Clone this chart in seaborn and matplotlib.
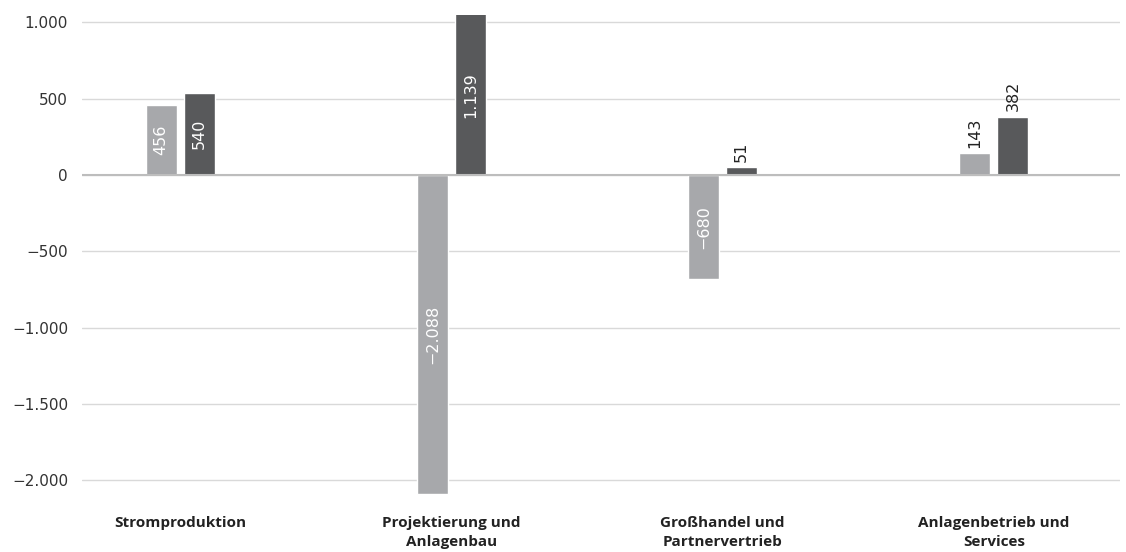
import numpy as np
import matplotlib
matplotlib.use('Agg')
import matplotlib.pyplot as plt
import matplotlib.ticker as mticker
import pandas as pd
import seaborn as sns

# Daten
kategorien = ['Stromproduktion', 'Projektierung und\nAnlagenbau',
              'Großhandel und\nPartnervertrieb', 'Anlagenbetrieb und\nServices']
reihe_1 = [456, -2088, -680, 143]
reihe_2 = [540, 1139, 51, 382]
reihen = ['Reihe 1', 'Reihe 2']
farben = ['#a7a8ab', '#58595b']

df = pd.DataFrame({
    'kategorie': kategorien * 2,
    'wert': reihe_1 + reihe_2,
    'reihe': [reihen[0]] * 4 + [reihen[1]] * 4,
})

def de_format(v):
    s = f"{abs(v):,.0f}".replace(",", ".")
    return ("\u2212" + s) if v < 0 else s

sns.set_style('white')
plt.rcParams['font.family'] = ['Open Sans', 'DejaVu Sans']

fig, ax = plt.subplots(figsize=(11.26, 5.52), dpi=100)
fig.subplots_adjust(left=82/1126, right=1120/1126, top=1-15/552, bottom=1-512/552)

sns.barplot(data=df, x='kategorie', y='wert', hue='reihe', palette=farben,
            width=0.28, gap=0.18, legend=False, ax=ax, saturation=1)

# Werte beschriften
for cont in ax.containers:
    werte = cont.datavalues
    innen = [de_format(v) if abs(v) >= 450 else '' for v in werte]
    aussen = [de_format(v) if abs(v) < 450 else '' for v in werte]
    ax.bar_label(cont, labels=innen, label_type='center', rotation=90,
                 color='white', family='DejaVu Sans', fontsize=11.5)
    ax.bar_label(cont, labels=aussen, label_type='edge', rotation=90,
                 color='#222222', family='DejaVu Sans', fontsize=11.5, padding=4)

ax.set_ylim(-2207, 1048)
ax.set_xlim(-0.362, 3.465)
ax.set_yticks(np.arange(-2000, 1001, 500))
ax.yaxis.set_major_formatter(mticker.FuncFormatter(lambda v, p: de_format(v)))
ax.grid(axis='y', color='#d9d9d9', linewidth=1)
ax.set_axisbelow(True)
ax.axhline(0, color='#bdbdbd', linewidth=1.5, zorder=1)
for s in ax.spines.values():
    s.set_visible(False)

ax.tick_params(axis='y', length=0, pad=10, labelcolor='#333333',
               labelsize=11, labelfontfamily='DejaVu Sans')
ax.tick_params(axis='x', length=0, pad=3, labelsize=11)
for t in ax.get_xticklabels():
    t.set_fontweight('bold')
    t.set_color('#222222')
    t.set_ha('center')
    t.set_va('top')
    t.set_linespacing(1.45)
ax.set_xlabel('')
ax.set_ylabel('')

plt.savefig('out.png', dpi=100)
